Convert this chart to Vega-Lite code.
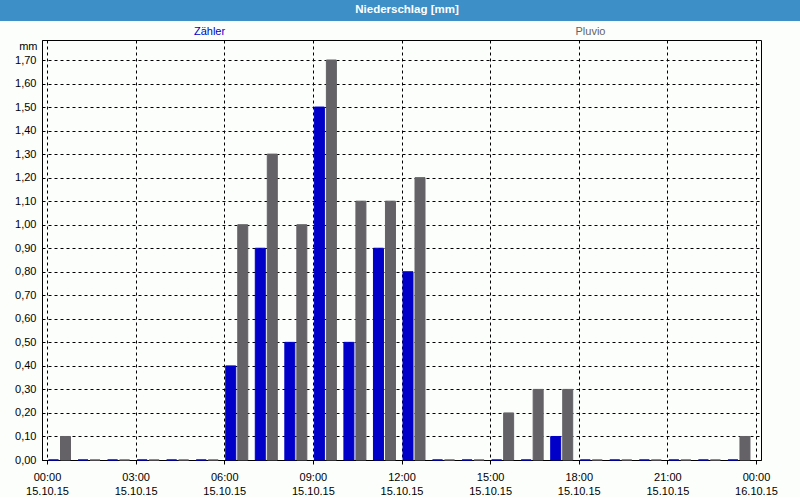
{
  "$schema": "https://vega.github.io/schema/vega-lite/v6.json",
  "background": "#fcfefc",
  "padding": 0,
  "spacing": 0,
  "config": {
    "font": "Liberation Sans",
    "view": {"stroke": null},
    "legend": {"disable": true}
  },
  "datasets": {
    "rain": [
      {"t": "2015-10-15T00:00:00", "zaehler": 0.0, "pluvio": 0.1},
      {"t": "2015-10-15T01:00:00", "zaehler": 0.0, "pluvio": 0.0},
      {"t": "2015-10-15T02:00:00", "zaehler": 0.0, "pluvio": 0.0},
      {"t": "2015-10-15T03:00:00", "zaehler": 0.0, "pluvio": 0.0},
      {"t": "2015-10-15T04:00:00", "zaehler": 0.0, "pluvio": 0.0},
      {"t": "2015-10-15T05:00:00", "zaehler": 0.0, "pluvio": 0.0},
      {"t": "2015-10-15T06:00:00", "zaehler": 0.4, "pluvio": 1.0},
      {"t": "2015-10-15T07:00:00", "zaehler": 0.9, "pluvio": 1.3},
      {"t": "2015-10-15T08:00:00", "zaehler": 0.5, "pluvio": 1.0},
      {"t": "2015-10-15T09:00:00", "zaehler": 1.5, "pluvio": 1.7},
      {"t": "2015-10-15T10:00:00", "zaehler": 0.5, "pluvio": 1.1},
      {"t": "2015-10-15T11:00:00", "zaehler": 0.9, "pluvio": 1.1},
      {"t": "2015-10-15T12:00:00", "zaehler": 0.8, "pluvio": 1.2},
      {"t": "2015-10-15T13:00:00", "zaehler": 0.0, "pluvio": 0.0},
      {"t": "2015-10-15T14:00:00", "zaehler": 0.0, "pluvio": 0.0},
      {"t": "2015-10-15T15:00:00", "zaehler": 0.0, "pluvio": 0.2},
      {"t": "2015-10-15T16:00:00", "zaehler": 0.0, "pluvio": 0.3},
      {"t": "2015-10-15T17:00:00", "zaehler": 0.1, "pluvio": 0.3},
      {"t": "2015-10-15T18:00:00", "zaehler": 0.0, "pluvio": 0.0},
      {"t": "2015-10-15T19:00:00", "zaehler": 0.0, "pluvio": 0.0},
      {"t": "2015-10-15T20:00:00", "zaehler": 0.0, "pluvio": 0.0},
      {"t": "2015-10-15T21:00:00", "zaehler": 0.0, "pluvio": 0.0},
      {"t": "2015-10-15T22:00:00", "zaehler": 0.0, "pluvio": 0.0},
      {"t": "2015-10-15T23:00:00", "zaehler": 0.0, "pluvio": 0.1}
    ],
    "series": [{"name": "Zähler"}, {"name": "Pluvio"}],
    "heading": [{"title": "Niederschlag [mm]"}]
  },
  "vconcat": [
    {
      "width": 800,
      "height": 21,
      "data": {"name": "heading"},
      "view": {"fill": "#3c8fc7", "stroke": null},
      "mark": {"type": "text", "font": "Liberation Sans", "fontSize": 11.5, "fontWeight": "bold", "color": "#ffffff", "baseline": "middle", "dx": 7, "dy": -1},
      "encoding": {"text": {"field": "title"}}
    },
    {
      "width": 800,
      "height": 18,
      "data": {"name": "series"},
      "view": {"stroke": null},
      "mark": {"type": "text", "font": "Liberation Sans", "fontSize": 11, "baseline": "middle", "dy": 2},
      "encoding": {
        "x": {"field": "name", "type": "nominal", "sort": null, "scale": {"type": "point", "padding": 0.55, "domain": ["Zähler", "Pluvio"]}, "axis": null},
        "text": {"field": "name"},
        "color": {"field": "name", "type": "nominal", "scale": {"domain": ["Zähler", "Pluvio"], "range": ["#0000c8", "#646266"]}, "legend": null}
      }
    },
    {
      "spacing": 0,
      "hconcat": [
        {
          "width": 1,
          "height": 1,
          "data": {"values": []},
          "view": {"stroke": null},
          "mark": "point"
        },
        {
          "width": 719,
          "height": 420,
          "data": {"name": "rain"},
          "view": {"fill": "#fcfefc", "stroke": "#000000", "strokeWidth": 1},
          "encoding": {
            "x": {
              "field": "t",
              "type": "temporal",
              "scale": {"domain": [{"year": 2015, "month": 10, "date": 15, "hours": 0}, {"year": 2015, "month": 10, "date": 16, "hours": 0}], "nice": false},
              "axis": {
                "title": null,
                "values": [
                  {"year": 2015, "month": 10, "date": 15, "hours": 0},
                  {"year": 2015, "month": 10, "date": 15, "hours": 3},
                  {"year": 2015, "month": 10, "date": 15, "hours": 6},
                  {"year": 2015, "month": 10, "date": 15, "hours": 9},
                  {"year": 2015, "month": 10, "date": 15, "hours": 12},
                  {"year": 2015, "month": 10, "date": 15, "hours": 15},
                  {"year": 2015, "month": 10, "date": 15, "hours": 18},
                  {"year": 2015, "month": 10, "date": 15, "hours": 21},
                  {"year": 2015, "month": 10, "date": 16, "hours": 0}
                ],
                "labelExpr": "[timeFormat(datum.value, '%H:%M'), timeFormat(datum.value, '%d.%m.%y')]",
                "labelFont": "Liberation Sans",
                "labelFontSize": 11,
                "labelColor": "#000000",
                "labelBaseline": "top",
                "labelLineHeight": 14,
                "labelPadding": 7,
                "labelFlush": false,
                "labelOverlap": false,
                "labelBound": false,
                "labelAngle": 0,
                "tickSize": 4,
                "tickColor": "#000000",
                "domainColor": "#000000",
                "grid": true,
                "gridColor": "#000000",
                "gridDash": [3, 3]
              }
            },
            "y": {
              "field": "zaehler",
              "type": "quantitative",
              "scale": {"domain": [0, 1.785], "nice": false, "zero": true},
              "axis": {
                "title": "mm",
                "titleAngle": 0,
                "titleAlign": "right",
                "titleBaseline": "alphabetic",
                "titleX": -5,
                "titleY": 9,
                "titleFont": "Liberation Sans",
                "titleFontSize": 11,
                "titleFontWeight": "normal",
                "titleColor": "#000000",
                "values": [0, 0.1, 0.2, 0.3, 0.4, 0.5, 0.6, 0.7, 0.8, 0.9, 1.0, 1.1, 1.2, 1.3, 1.4, 1.5, 1.6, 1.7],
                "labelExpr": "replace(format(datum.value, '.2f'), '.', ',')",
                "labelFont": "Liberation Sans",
                "labelFontSize": 11,
                "labelColor": "#000000",
                "labelPadding": 6,
                "ticks": false,
                "domainColor": "#000000",
                "grid": true,
                "gridColor": "#000000",
                "gridDash": [3, 3],
                "minExtent": 40,
                "maxExtent": 40
              }
            }
          },
          "layer": [
            {
              "mark": {"type": "bar", "width": 10, "xOffset": 6.5, "color": "#0000c8", "stroke": "#0000c8", "strokeWidth": 1}
            },
            {
              "mark": {"type": "bar", "width": 10, "xOffset": 18.5, "color": "#646266", "stroke": "#646266", "strokeWidth": 1},
              "encoding": {
                "y": {"field": "pluvio", "type": "quantitative"}
              }
            }
          ]
        }
      ]
    }
  ]
}
